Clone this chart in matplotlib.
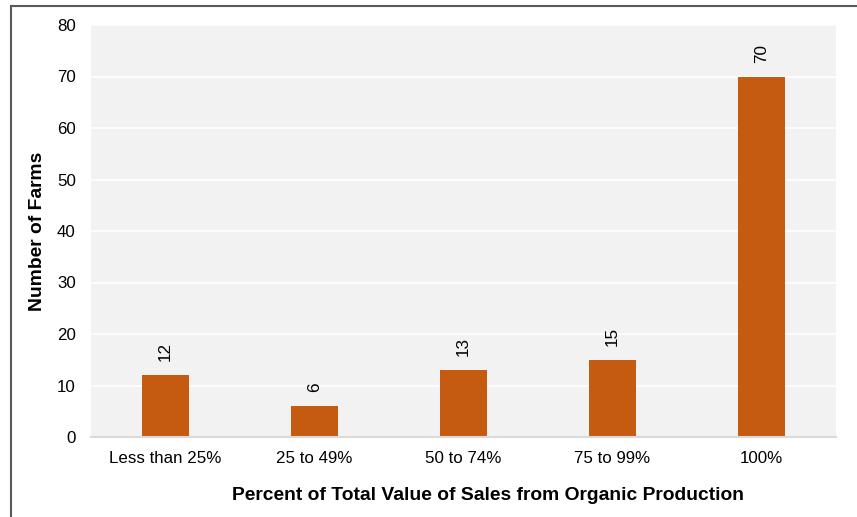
import matplotlib
matplotlib.use("Agg")
import matplotlib.pyplot as plt
from matplotlib.patches import Rectangle

categories = ["Less than 25%", "25 to 49%", "50 to 74%", "75 to 99%", "100%"]
farms = [12, 6, 13, 15, 70]
y_ticks = [0, 10, 20, 30, 40, 50, 60, 70, 80]

plt.rcParams["font.family"] = ["Liberation Sans", "DejaVu Sans"]

fig = plt.figure(figsize=(8.57, 5.17), dpi=100)
ax = fig.add_axes([91 / 857, 80 / 517, 745 / 857, 412 / 517])
ax.set_facecolor("#f2f2f2")

xs = list(range(len(categories)))
ax.bar(xs, farms, width=0.315, color="#c55a11", zorder=3)
for x, v in zip(xs, farms):
    ax.annotate(str(v), (x, v), xytext=(0, 10), textcoords="offset points",
                rotation=90, ha="center", va="bottom", fontsize=12.3, color="black")

ax.set_xlim(-0.5, len(categories) - 0.5)
ax.set_ylim(0, 80)
ax.set_yticks(y_ticks)
ax.set_xticks(xs)
ax.set_xticklabels(categories, fontsize=12.2)
ax.tick_params(axis="y", labelsize=12.2, length=0, pad=11)
ax.tick_params(axis="x", length=0, pad=10)
ax.grid(axis="y", color="white", linewidth=1.2, zorder=0)
for side in ["top", "right", "left"]:
    ax.spines[side].set_visible(False)
ax.spines["bottom"].set_color("#d9d9d9")
ax.spines["bottom"].set_linewidth(1.5)
ax.spines["bottom"].set_zorder(4)

ax.set_xlabel("Percent of Total Value of Sales from Organic Production",
              fontsize=13.9, fontweight="bold", labelpad=15)
ax.xaxis.label.set_x(0.533)  # the title sits a little right of centre in the original
ax.set_ylabel("Number of Farms", fontsize=13.9, fontweight="bold", labelpad=8)

# outer frame of the figure (only top and left visible in the crop)
fig.patches.append(Rectangle((11 / 857, -0.1), 1.2, (517 - 6) / 517 + 0.1,
                             transform=fig.transFigure, fill=False,
                             edgecolor="#595959", linewidth=1.5))

fig.savefig("out.png", dpi=100)
